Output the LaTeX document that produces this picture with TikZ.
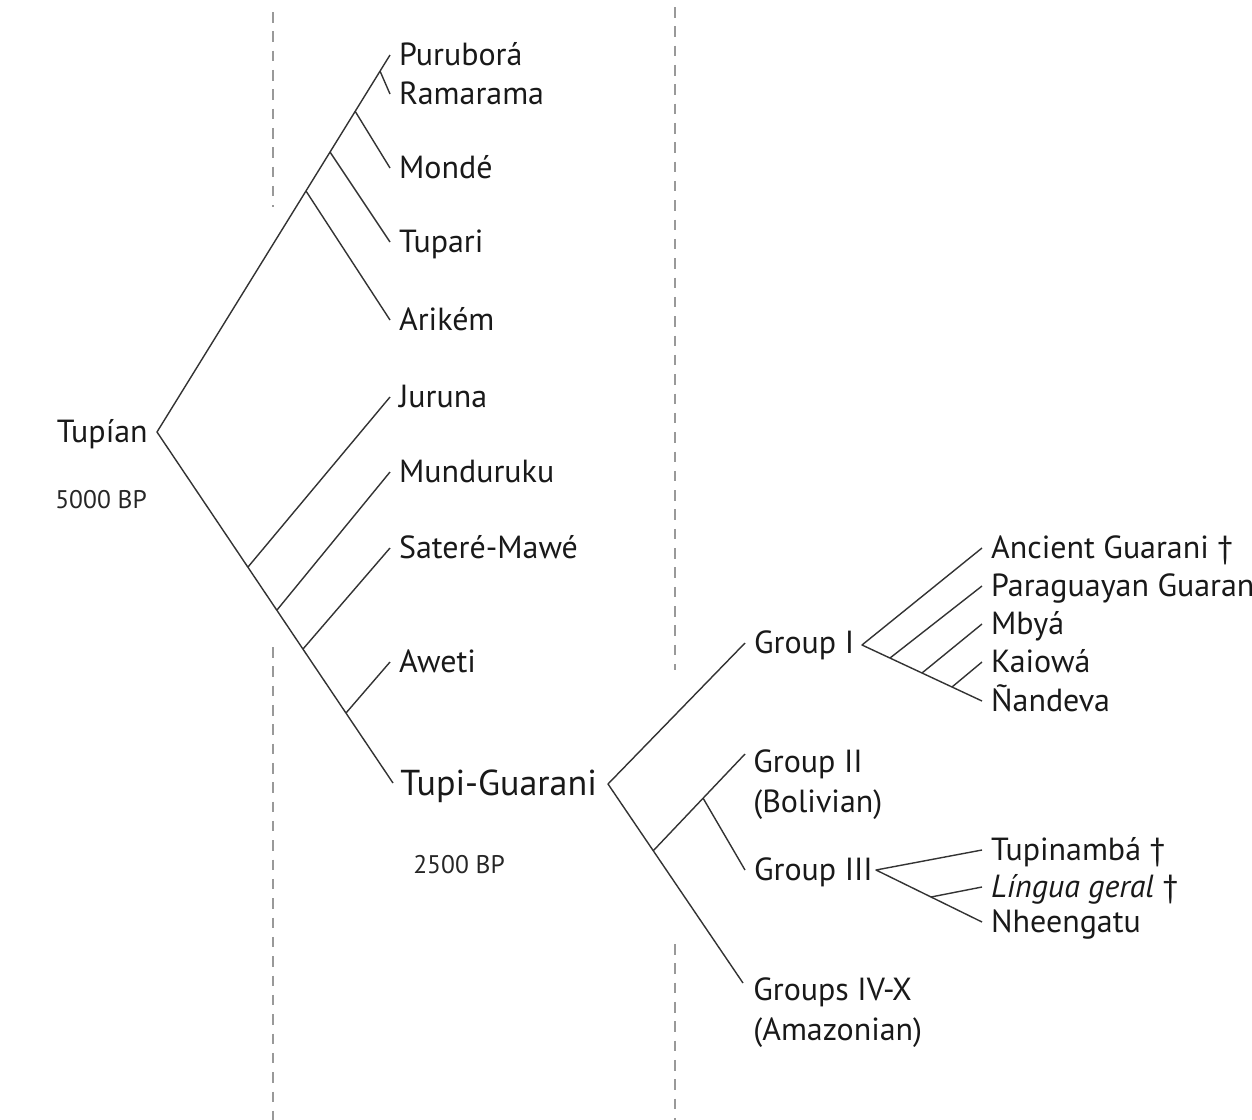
\documentclass[tikz,border=0pt]{standalone}
\usepackage{fontspec}
\setmainfont{PT Sans}
\usetikzlibrary{positioning}

\begin{document}
\begin{tikzpicture}[x=0.02cm,y=-0.02cm,
    branch/.style={line width=0.8pt, draw=black!80, line join=round},
    guide/.style={dash pattern=on 6pt off 5pt, line width=0.6pt, draw=black!40},
    lbl/.style={inner sep=0pt, text=black!90, font=\fontsize{18.2}{21}\selectfont, text height=12.5pt, text depth=0pt},
    lbltwo/.style={inner sep=0pt, text=black!90, font=\fontsize{18.2}{22.7}\selectfont, align=left},
    age/.style={inner sep=0pt, text=black!85, font=\fontsize{14.5}{16}\selectfont}]
  \clip (0,0) rectangle (1252,1120);

  % time guides
  \draw[guide] (273,12) -- (273,207);
  \draw[guide] (273,647) -- (273,1120);
  \draw[guide] (675,7) -- (675,670);
  \draw[guide] (675,944) -- (675,1120);

  % Tupian root
  \coordinate (root) at (157,432);
  \node[lbl, anchor=east] (tupian) at (148,432) {Tupían};
  \node[age, anchor=west] (bp5000) at (55,500) {5000 BP};

  % upper clade
  \coordinate (tPuru)   at (390,55);
  \coordinate (tRama)   at (390,94);
  \coordinate (tMonde)  at (390,168);
  \coordinate (tTupari) at (390,242);
  \coordinate (tArikem) at (390,320);
  \coordinate (bRama)   at (380,71);
  \coordinate (bMonde)  at (355,111);
  \coordinate (bTupari) at (330,152);
  \coordinate (bArikem) at (306,191);

  \node[lbl, right=5pt of tPuru]   (purubora) {Puruborá};
  \node[lbl, right=5pt of tRama]   (ramarama) {Ramarama};
  \node[lbl, right=5pt of tMonde]  (monde)    {Mondé};
  \node[lbl, right=5pt of tTupari] (tupari)   {Tupari};
  \node[lbl, right=5pt of tArikem] (arikem)   {Arikém};

  % lower clade
  \coordinate (tJuruna) at (390,397);
  \coordinate (tMundu)  at (390,472);
  \coordinate (tSatere) at (390,548);
  \coordinate (tAweti)  at (390,662);
  \coordinate (tTG)     at (393,783);
  \coordinate (bJuruna) at (248,567);
  \coordinate (bMundu)  at (277,610);
  \coordinate (bSatere) at (303,649);
  \coordinate (bAweti)  at (346,713);

  \node[lbl, right=5pt of tJuruna] (juruna) {Juruna};
  \node[lbl, right=5pt of tMundu]  (mundu)  {Munduruku};
  \node[lbl, right=5pt of tSatere] (satere) {Sateré-Mawé};
  \node[lbl, right=5pt of tAweti]  (aweti)  {Aweti};
  \node[lbl, right=4pt of tTG, font=\fontsize{20.5}{24}\selectfont, text height=14pt] (tupigua) {Tupi-Guarani};
  \node[age, anchor=west] (bp2500) at (413,865) {2500 BP};

  % Tupi-Guarani groups
  \coordinate (tgv)     at (608,784);
  \coordinate (tGrpI)   at (745,643);
  \coordinate (tGrpII)  at (745,754);
  \coordinate (tGrpIII) at (745,870);
  \coordinate (tGrpIV)  at (743,983);
  \coordinate (bClade)  at (653,851);
  \coordinate (bGrpIII) at (703,798);

  \node[lbl, right=5pt of tGrpI]   (grp1) {Group I};
  \node[lbltwo, anchor=north west] (grp2) at (753,749) {Group II\\(Bolivian)};
  \node[lbl, right=5pt of tGrpIII] (grp3) {Group III};
  \node[lbltwo, anchor=north west] (grp4) at (753,977) {Groups IV-X\\(Amazonian)};

  % Group I languages
  \coordinate (g1v)     at (862,645);
  \coordinate (tAnc)    at (982,548);
  \coordinate (tPara)   at (982,586);
  \coordinate (tMbya)   at (982,624);
  \coordinate (tKaiowa) at (982,662);
  \coordinate (tNande)  at (982,701);
  \coordinate (bPara)   at (890,658);
  \coordinate (bMbya)   at (922,673);
  \coordinate (bKaiowa) at (952,687);

  \node[lbl, right=5pt of tAnc]    (ancient) {Ancient Guarani \textdagger};
  \node[lbl, right=5pt of tPara]   (paragua) {Paraguayan Guarani};
  \node[lbl, right=5pt of tMbya]   (mbya)    {Mbyá};
  \node[lbl, right=5pt of tKaiowa] (kaiowa)  {Kaiowá};
  \node[lbl, right=5pt of tNande]  (nandeva) {Ñandeva};

  % Group III languages
  \coordinate (g3v)     at (876,870);
  \coordinate (tTupin)  at (982,850);
  \coordinate (tLingua) at (982,887);
  \coordinate (tNheen)  at (982,922);
  \coordinate (bLingua) at (931,897);

  \node[lbl, right=5pt of tTupin]  (tupinamba) {Tupinambá \textdagger};
  \node[lbl, right=5pt of tLingua] (lingua)    {\textit{Língua geral} \textdagger};
  \node[lbl, right=5pt of tNheen]  (nheengatu) {Nheengatu};

  % branches
  \draw[branch] (tPuru) -- (root) -- (tTG);
  \draw[branch] (bRama)   -- (tRama);
  \draw[branch] (bMonde)  -- (tMonde);
  \draw[branch] (bTupari) -- (tTupari);
  \draw[branch] (bArikem) -- (tArikem);
  \draw[branch] (bJuruna) -- (tJuruna);
  \draw[branch] (bMundu)  -- (tMundu);
  \draw[branch] (bSatere) -- (tSatere);
  \draw[branch] (bAweti)  -- (tAweti);

  \draw[branch] (tGrpI) -- (tgv) -- (tGrpIV);
  \draw[branch] (bClade)  -- (tGrpII);
  \draw[branch] (bGrpIII) -- (tGrpIII);

  \draw[branch] (tAnc) -- (g1v) -- (tNande);
  \draw[branch] (bPara)   -- (tPara);
  \draw[branch] (bMbya)   -- (tMbya);
  \draw[branch] (bKaiowa) -- (tKaiowa);

  \draw[branch] (tTupin) -- (g3v) -- (tNheen);
  \draw[branch] (bLingua) -- (tLingua);
\end{tikzpicture}
\end{document}
